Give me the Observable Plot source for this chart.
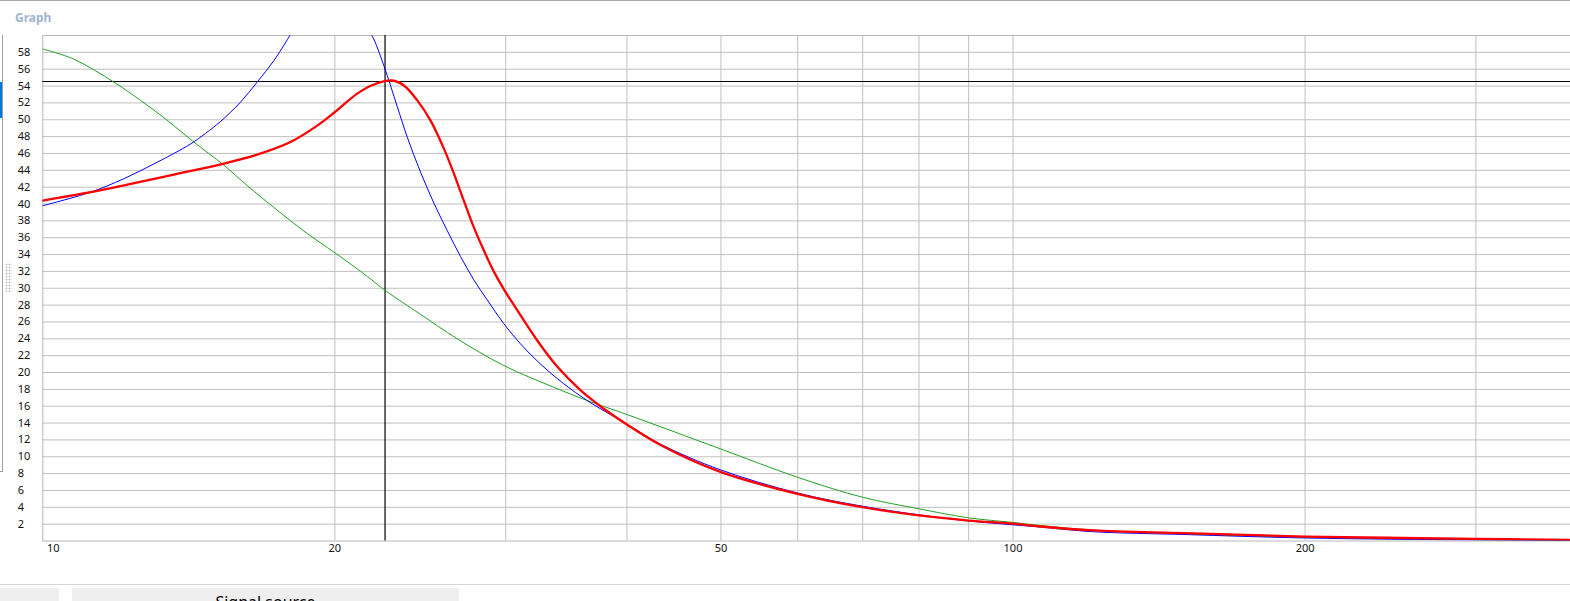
<!DOCTYPE html>
<html><head><meta charset="utf-8">
<script src="https://cdn.jsdelivr.net/npm/d3@7"></script>
<script src="https://cdn.jsdelivr.net/npm/@observablehq/plot@0.6"></script>
<style>
html,body{margin:0;padding:0;background:#fff;overflow:hidden;}
#page{position:relative;width:1570px;height:601px;overflow:hidden;font-family:"Noto Sans",sans-serif;}
#topline{position:absolute;left:0;top:0;width:1570px;height:1px;background:#a8a8a8;}
#title{position:absolute;left:15px;top:9px;font-size:12px;font-weight:bold;color:#9fb5d1;}
#chart{position:absolute;left:0;top:0;}
#leftedge{position:absolute;left:2px;top:35px;width:1px;height:437px;background:#a0a0a0;}
#leftfoot{position:absolute;left:0;top:471px;width:3px;height:1px;background:#a0a0a0;}
#tab{position:absolute;left:0;top:82px;width:2px;height:36px;background:#0078d7;}
#grip{position:absolute;left:5px;top:263px;width:7px;height:29px;background-image:radial-gradient(#c4c4c4 0.9px, transparent 1.1px);background-size:3px 3px;}
#sep{position:absolute;left:0;top:584px;width:1570px;height:1px;background:#d6d6d6;}
.btn{position:absolute;top:588px;height:24px;background:#efefef;}
#btn2 span{position:absolute;left:0;right:0;top:6px;text-align:center;font-size:16px;color:#000;line-height:16px;}
</style>
</head><body>
<div id="page">
  <div id="topline"></div>
  <div id="title">Graph</div>
  <div id="chart"></div>
  <div id="leftedge"></div>
  <div id="leftfoot"></div>
  <div id="tab"></div>
  <div id="grip"></div>
  <div id="sep"></div>
  <div class="btn" id="btn1" style="left:0;width:59px;"></div>
  <div class="btn" id="btn2" style="left:72px;width:387px;"><span>Signal source</span></div>
</div>
<script>
// ---- data ----
const redX = [10, 11.2, 12.22, 13.65, 15.37, 16.63, 18.0, 19.18, 19.95, 21.09, 21.94, 22.9, 23.56, 24.32, 25.10, 25.90, 26.53, 27.16, 27.81, 28.48, 29.16, 29.86, 30.83, 32.33, 33.90, 35.82, 36.97, 37.86, 40.03, 43.32, 49.93, 59.95, 69.95, 80, 90, 100, 106.7, 121, 150, 200, 300, 375.5];
const redY = [40.4, 41.4, 42.3, 43.5, 44.8, 45.85, 47.35, 49.3, 50.8, 53.1, 54.18, 54.66, 54.07, 52.3, 49.9, 46.6, 43.6, 40.4, 37.25, 34.5, 32.0, 29.9, 27.4, 23.8, 20.7, 17.9, 16.6, 15.7, 13.8, 11.4, 8.2, 5.6, 4.01, 3.03, 2.43, 2.06, 1.72, 1.25, 0.93, 0.53, 0.26, 0.14];

const blueRiseX = [10, 11.2, 12.12, 13.12, 14.19, 14.72, 15.25, 15.99, 16.63, 17.30, 17.93, 18.1];
const blueRiseY = [39.8, 41.4, 43.0, 44.96, 47.1, 48.4, 49.8, 52.1, 54.46, 57.0, 59.8, 60.6];
const blueFallX = [21.62, 21.86, 22.47, 23.19, 23.75, 24.51, 25.30, 26.11, 26.95, 27.81, 28.71, 29.86, 31.07, 32.58, 34.43, 36.39, 38.47, 40.03, 43.32, 49.93, 59.95, 69.95, 80, 90, 100, 106.7, 121, 150, 200, 300, 375.5];
const blueFallY = [60.6, 59.9, 56.4, 51.57, 47.93, 43.78, 40.1, 36.85, 33.77, 31.0, 28.63, 25.8, 23.4, 21.0, 18.66, 16.68, 15.0, 13.85, 11.5, 8.45, 5.7, 4.13, 3.11, 2.38, 1.92, 1.66, 1.1, 0.77, 0.36, 0.12, 0.05];

const greenX = [10, 10.76, 11.84, 12.61, 13.38, 14.26, 15.37, 16.24, 17.30, 18.73, 19.95, 21.09, 21.77, 22.56, 24.51, 26.74, 29.86, 33.62, 36.39, 40.03, 49.93, 59.95, 69.95, 80, 90, 100, 106.7, 121, 150, 200, 300, 375.5];
const greenY = [58.4, 57.2, 54.46, 52.3, 50.1, 47.5, 44.6, 42.2, 39.6, 36.5, 34.3, 32.3, 31.1, 29.7, 26.9, 24.0, 20.83, 18.25, 16.68, 15.0, 10.94, 7.57, 5.2, 3.82, 2.75, 2.2, 1.84, 1.3, 0.85, 0.45, 0.16, 0.06];

const cursorX = 22.53;
const cursorY = 54.54;

const yTicks = d3.range(2, 60, 2);
const xGridTicks = [20, 30, 40, 50, 60, 70, 80, 90, 100, 200, 300];
const xLabelTicks = [20, 50, 100, 200];
const xFirstLabel = [10];

// ---- build tables ----
const toRows = (xs, ys, s) => xs.map((x, i) => ({x, y: ys[i], s}));
const red = toRows(redX, redY, "red");
const blue = toRows(blueRiseX, blueRiseY, "a").concat(toRows(blueFallX, blueFallY, "b"));
const green = toRows(greenX, greenY, "green");

const chart = Plot.plot({
  width: 1570,
  height: 571,
  marginLeft: 42.3,
  marginRight: 0,
  marginTop: 35,
  marginBottom: 30.5,
  style: {fontFamily: "Noto Sans, sans-serif", fontSize: "11px", color: "#111", background: "transparent", overflow: "visible"},
  x: {type: "log", domain: [10, 375.5]},
  y: {domain: [0, 60]},
  marks: [
    Plot.gridX(xGridTicks, {stroke: "#c0c0c0", strokeOpacity: 1}),
    Plot.gridY(yTicks, {stroke: "#c0c0c0", strokeOpacity: 1}),
    Plot.frame({stroke: "#b8b8b8"}),
    Plot.axisY(yTicks, {label: null, tickSize: 0, tickPadding: 0, textAnchor: "start", dx: -25, tickFormat: d => String(d), fill: "#111"}),
    Plot.axisX(xLabelTicks, {label: null, tickSize: 0, tickPadding: 3, tickFormat: d => String(d), fill: "#111"}),
    Plot.axisX(xFirstLabel, {label: null, tickSize: 0, tickPadding: 3, dx: 10.5, tickFormat: d => String(d), fill: "#111"}),
    Plot.ruleY([cursorY], {stroke: "#000", strokeWidth: 1.2}),
    Plot.ruleX([cursorX], {stroke: "#000", strokeWidth: 1.2}),
    Plot.line(green, {x: "x", y: "y", z: "s", stroke: "#22a022", strokeWidth: 1, curve: "catmull-rom", clip: true}),
    Plot.line(blue, {x: "x", y: "y", z: "s", stroke: "#0000ff", strokeWidth: 1, curve: "catmull-rom", clip: true}),
    Plot.line(red, {x: "x", y: "y", z: "s", stroke: "#ff0000", strokeWidth: 2.3, curve: "catmull-rom", clip: true})
  ]
});
document.getElementById("chart").appendChild(chart);
</script>
</body></html>
